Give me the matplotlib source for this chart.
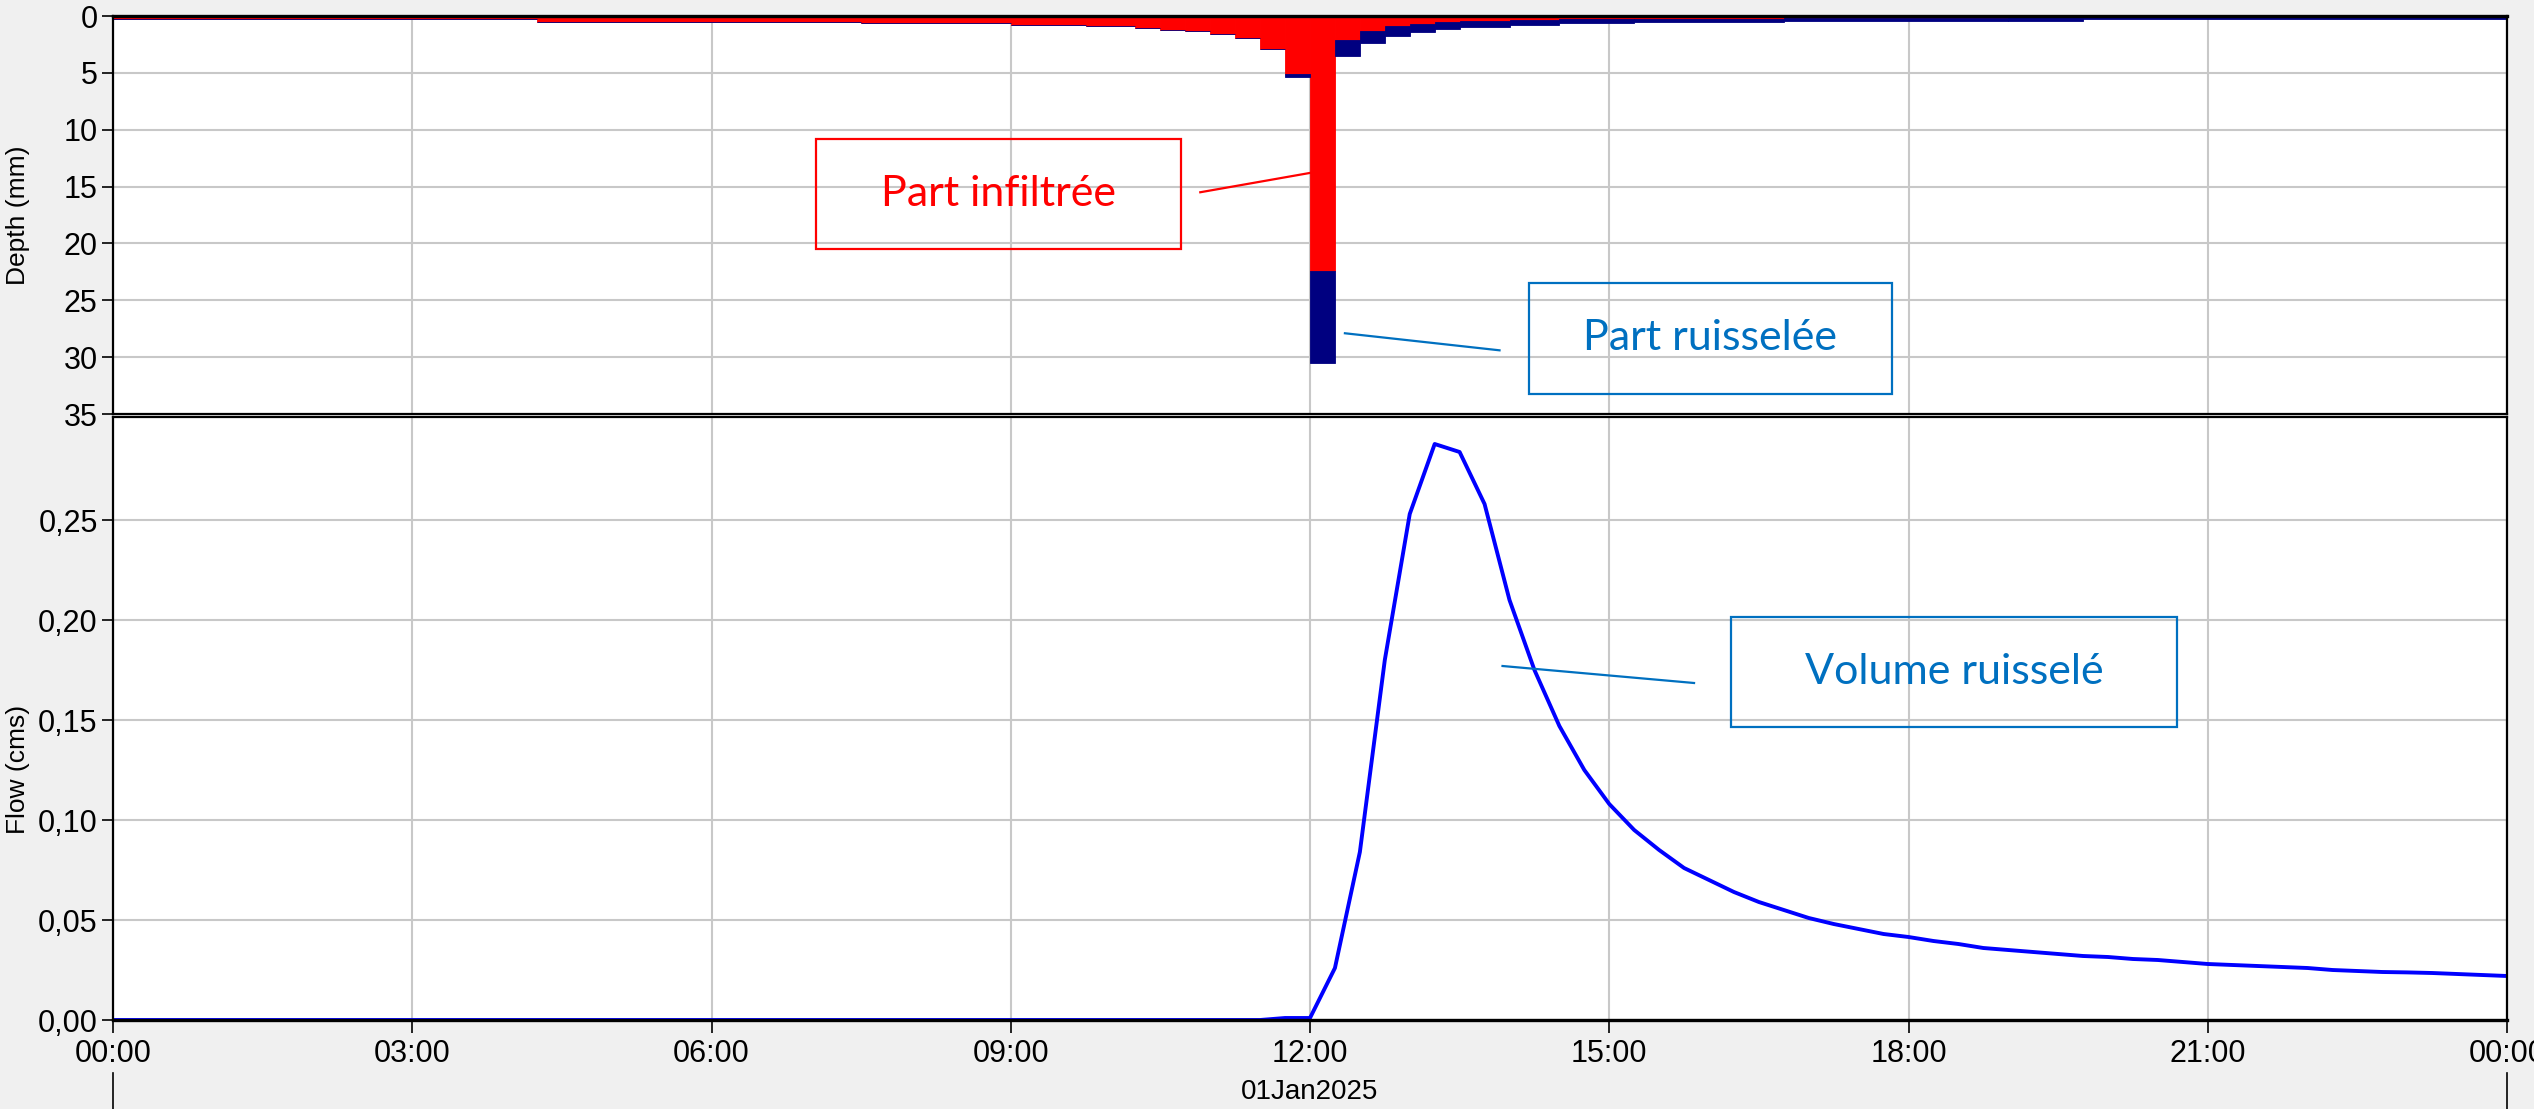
import matplotlib
matplotlib.use("Agg")
import matplotlib.pyplot as plt
from matplotlib.patches import Rectangle
from matplotlib.ticker import FuncFormatter

plt.rcParams['font.family'] = ['Liberation Sans', 'DejaVu Sans']

# hyetograph steps (hours, mm)
rain_start = [0.00, 4.25, 7.50, 9.00, 9.75, 10.25, 10.50, 10.75, 11.00, 11.25, 11.50, 11.75,
              12.00, 12.25, 12.50, 12.75, 13.00, 13.25, 13.50, 14.00, 14.50, 15.25, 16.75, 19.00, 19.75]
rain_end = [4.25, 7.50, 9.00, 9.75, 10.25, 10.50, 10.75, 11.00, 11.25, 11.50, 11.75, 12.00,
            12.25, 12.50, 12.75, 13.00, 13.25, 13.50, 14.00, 14.50, 15.25, 16.75, 19.00, 19.75, 24.00]
rain_total = [0.25, 0.50, 0.65, 0.78, 0.90, 1.08, 1.22, 1.36, 1.62, 1.92, 2.88, 5.40,
              30.5, 3.55, 2.40, 1.78, 1.45, 1.18, 0.95, 0.80, 0.65, 0.50, 0.44, 0.44, 0.22]
rain_loss = [0.25, 0.50, 0.65, 0.78, 0.90, 1.08, 1.22, 1.36, 1.62, 1.92, 2.88, 5.08,
             22.4, 2.10, 1.30, 0.90, 0.68, 0.55, 0.45, 0.38, 0.30, 0.24, 0.18, 0.02, 0.02]

# outflow hydrograph (hours, m3/s)
flow_t = [0.0, 11.5, 11.75, 12.0, 12.25, 12.5, 12.75, 13.0, 13.25, 13.5, 13.75, 14.0, 14.25, 14.5,
          14.75, 15.0, 15.25, 15.5, 15.75, 16.0, 16.25, 16.5, 16.75, 17.0, 17.25, 17.5, 17.75,
          18.0, 18.25, 18.5, 18.75, 19.0, 19.25, 19.5, 19.75, 20.0, 20.25, 20.5, 20.75, 21.0,
          21.25, 21.5, 21.75, 22.0, 22.25, 22.5, 22.75, 23.0, 23.25, 23.5, 23.75, 24.0]
flow_q = [0.0, 0.0, 0.001, 0.001, 0.026, 0.084, 0.180, 0.253, 0.288, 0.284, 0.258, 0.210, 0.175, 0.147,
          0.125, 0.108, 0.095, 0.085, 0.076, 0.070, 0.064, 0.059, 0.055, 0.051, 0.048, 0.0455, 0.043,
          0.0415, 0.0395, 0.038, 0.036, 0.035, 0.034, 0.033, 0.032, 0.0315, 0.0305, 0.030, 0.029, 0.028,
          0.0275, 0.027, 0.0265, 0.026, 0.025, 0.0245, 0.024, 0.0238, 0.0235, 0.023, 0.0225, 0.022]

hour_ticks = [0, 3, 6, 9, 12, 15, 18, 21, 24]
hour_labels = ["00:00", "03:00", "06:00", "09:00", "12:00", "15:00", "18:00", "21:00", "00:00"]
depth_ticks = [0, 5, 10, 15, 20, 25, 30, 35]
flow_ticks = [0.0, 0.05, 0.10, 0.15, 0.20, 0.25]

W, H = 2534, 1109
bg = '#f0f0f0'
grid_c = '#c8c8c8'
fs = 22
fig = plt.figure(figsize=(W / 100, H / 100), dpi=100, facecolor=bg)
ax1 = fig.add_axes([113 / W, 1 - 414 / H, (2507 - 113) / W, (414 - 16) / H])
ax2 = fig.add_axes([113 / W, 1 - 1020 / H, (2507 - 113) / W, (1020 - 417) / H])

# --- top: precipitation ---
widths = [e - s for s, e in zip(rain_start, rain_end)]
excess = [t - l for t, l in zip(rain_total, rain_loss)]
ax1.bar(rain_start, rain_loss, width=widths, align='edge', color='#ff0000',
        edgecolor='#ff0000', linewidth=0.6, zorder=3)
ax1.bar(rain_start, excess, width=widths, bottom=rain_loss, align='edge', color='#000080',
        edgecolor='#000080', linewidth=0.6, zorder=3)
ax1.set_xlim(0, 24)
ax1.set_ylim(35, 0)
ax1.set_yticks(depth_ticks)
ax1.set_xticks(hour_ticks)
ax1.tick_params(axis='x', length=0, labelbottom=False)
ax1.set_ylabel("Depth (mm)", fontsize=19)
ax1.yaxis.set_label_coords(-0.0345, 0.5)

# --- bottom: flow ---
ax2.plot([0, 24], [0, 0], color='#a00000', lw=2, ls=(0, (6, 3)), zorder=3, clip_on=False)
ax2.plot(flow_t, flow_q, color='#0000ff', lw=2.8, zorder=4)
ax2.set_xlim(0, 24)
ax2.set_ylim(0, 0.3015)
ax2.set_yticks(flow_ticks)
ax2.yaxis.set_major_formatter(FuncFormatter(lambda v, p: f"{v:.2f}".replace('.', ',')))
ax2.set_xticks(hour_ticks)
ax2.set_xticklabels(hour_labels)
ax2.set_ylabel("Flow (cms)", fontsize=19)
ax2.yaxis.set_label_coords(-0.0345, 0.415)
ax2.text(12, -0.119, "01Jan2025", transform=ax2.get_xaxis_transform(), ha='center', va='center',
         fontsize=20)
for xv in (0, 24):
    ax2.plot([xv, xv], [-0.088, -0.16], transform=ax2.get_xaxis_transform(), color='black',
             lw=1.2, clip_on=False)

for ax in (ax1, ax2):
    ax.set_facecolor('white')
    ax.grid(True, color=grid_c, lw=1.5, zorder=0)
    ax.set_axisbelow(True)
    ax.tick_params(axis='y', labelsize=fs, length=8, width=1.2, pad=3, direction='out')
    for sp in ax.spines.values():
        sp.set_linewidth(1.6)
        sp.set_color('black')
        sp.set_zorder(5)
ax1.spines['top'].set_linewidth(2.4)
ax2.spines['bottom'].set_linewidth(2.4)
ax2.tick_params(axis='x', labelsize=fs, length=9, width=1.2, pad=5, direction='out')

# --- annotations ---
note_font = ['Lato', 'DejaVu Sans']
red_c = '#ff0000'
blue_c = '#0070c0'


def note(ax, x0, x1, y0, y1, txt, col, p_from, p_to):
    ax.add_patch(Rectangle((x0, y0), x1 - x0, y1 - y0, fill=False, edgecolor=col, lw=1.6,
                           zorder=6, clip_on=False))
    ax.text((x0 + x1) / 2, (y0 + y1) / 2, txt, color=col, fontsize=31, family=note_font,
            ha='center', va='center', zorder=6)
    ax.plot([p_from[0], p_to[0]], [p_from[1], p_to[1]], color=col, lw=1.6, zorder=6)


note(ax1, 7.05, 10.71, 10.8, 20.5, "Part infiltrée", red_c, (10.9, 15.5), (12.0, 13.8))
note(ax1, 14.2, 17.83, 23.5, 33.2, "Part ruisselée", blue_c, (12.35, 27.9), (13.9, 29.4))
note(ax2, 16.22, 20.69, 0.1465, 0.2015, "Volume ruisselé", blue_c, (13.93, 0.177), (15.85, 0.1685))

fig.savefig("out.png", dpi=100, facecolor=bg)
